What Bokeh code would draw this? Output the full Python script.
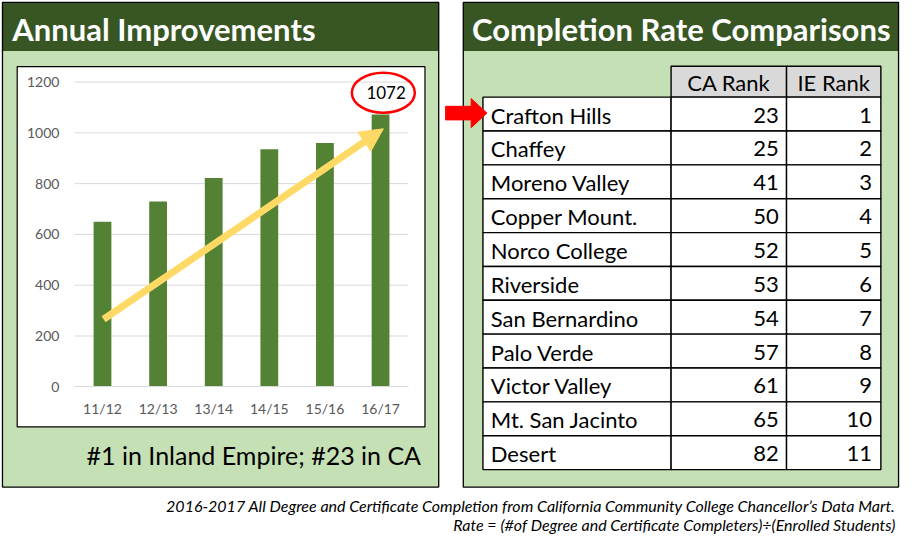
from bokeh.plotting import figure
from bokeh.models import Range1d, LinearAxis, FixedTicker, ColumnDataSource, Arrow, NormalHead
from bokeh.core.properties import value
from bokeh.embed import file_html
from bokeh.resources import INLINE

# ---------------- data ----------------
years = ["11/12", "12/13", "13/14", "14/15", "15/16", "16/17"]
completions = [650, 730, 822, 935, 960, 1072]
y_ticks = [0, 200, 400, 600, 800, 1000, 1200]

colleges = ["Crafton Hills", "Chaffey", "Moreno Valley", "Copper Mount.", "Norco College",
            "Riverside", "San Bernardino", "Palo Verde", "Victor Valley", "Mt. San Jacinto", "Desert"]
ca_rank = [23, 25, 41, 50, 52, 53, 54, 57, 61, 65, 82]
ie_rank = [1, 2, 3, 4, 5, 6, 7, 8, 9, 10, 11]
rank_headers = ["CA Rank", "IE Rank"]

left_title = "Annual Improvements"
right_title = "Completion Rate Comparisons"
left_note = "#1 in Inland Empire; #23 in CA"
footnotes = ["2016-2017 All Degree and Certificate Completion from California Community College Chancellor\u2019s Data Mart.",
             "Rate = (#of Degree and Certificate Completers)\u00f7(Enrolled Students)"]

# ---------------- styles ----------------
FONT = value("Lato")
DARK = "#375623"
LIGHT = "#C5E0B4"
BAR = "#548235"
YELLOW = "#FFD966"
GRAY_TXT = "#595959"
GRID = "#D9D9D9"

W, H = 901, 541          # canvas in px
RW, RH = 917, 557        # design coordinate space

p = figure(width=W, height=H, x_range=Range1d(0, RW), y_range=Range1d(RH, 0),
           output_backend="svg", toolbar_location=None, x_axis_type=None, y_axis_type=None,
           min_border=0, outline_line_color=None, background_fill_color="white",
           border_fill_color="white")

# bar-chart coordinate system (category index / value) inside the design space
BAR0_X, BAR_STEP = 103.8, 56.6
ZERO_Y, PX_PER_UNIT = 397.7, 313.7 / 1200
p.extra_x_ranges = {"cats": Range1d(-BAR0_X / BAR_STEP, (RW - BAR0_X) / BAR_STEP)}
p.extra_y_ranges = {"vals": Range1d((ZERO_Y - RH) / PX_PER_UNIT, ZERO_Y / PX_PER_UNIT)}

# ---------------- panels ----------------
for (l, r) in [(2, 446), (471, 914)]:
    p.quad(left=l, right=r, top=2, bottom=501, fill_color=LIGHT, line_color=None)
    p.quad(left=l, right=r, top=2, bottom=52, fill_color=DARK, line_color=None)
    p.quad(left=l, right=r, top=2, bottom=501, fill_color=None, line_color="black", line_width=1.3)

p.text(x=[12], y=[29], text=[left_title], text_font=FONT, text_font_style="bold",
       text_font_size="31px", text_color="white", text_baseline="middle", text_align="left")
p.text(x=[480], y=[29], text=[right_title], text_font=FONT, text_font_style="bold",
       text_font_size="31px", text_color="white", text_baseline="middle", text_align="left")

# chart box
p.quad(left=17, right=432, top=68, bottom=439, fill_color="white", line_color="black", line_width=1.2)

# ---------------- bar chart ----------------
n = len(years)
idx = list(range(n))
p.segment(x0=-0.5, x1=n - 0.5, y0="y", y1="y", source=ColumnDataSource(dict(y=y_ticks[1:])),
          x_range_name="cats", y_range_name="vals", line_color=GRID, line_width=1)
p.vbar(x=idx, top=completions, bottom=0, width=0.32, fill_color=BAR, line_color=None,
       x_range_name="cats", y_range_name="vals")

yax = LinearAxis(y_range_name="vals", fixed_location=62, ticker=FixedTicker(ticks=y_ticks),
                 axis_line_color=None, major_tick_line_color=None, minor_tick_line_color=None,
                 major_tick_in=0, major_tick_out=0, major_label_standoff=2,
                 major_label_text_color=GRAY_TXT, major_label_text_font="Lato",
                 major_label_text_font_size="14px")
p.add_layout(yax, "left")

xax = LinearAxis(x_range_name="cats", y_range_name="vals", fixed_location=0,
                 ticker=FixedTicker(ticks=idx), major_label_overrides={i: y for i, y in zip(idx, years)},
                 axis_line_color=GRID, bounds=(-0.5, n - 0.5), major_tick_line_color=None,
                 minor_tick_line_color=None, major_tick_in=0, major_tick_out=0,
                 major_label_standoff=13, major_label_text_color=GRAY_TXT,
                 major_label_text_font="Lato", major_label_text_font_size="14px")
p.add_layout(xax, "below")

p.add_layout(Arrow(x_start=0.02, y_start=266, x_end=5.05, y_end=1016,
                   x_range_name="cats", y_range_name="vals",
                   line_color=YELLOW, line_width=7,
                   end=NormalHead(size=23, fill_color=YELLOW, line_color=YELLOW, line_width=1)))

last = n - 1
p.ellipse(x=[last + 0.05], y=[completions[last] + 86], width=63, height=40,
          width_units="screen", height_units="screen", fill_color=None, line_color="red",
          line_width=2.5, x_range_name="cats", y_range_name="vals")
p.text(x=[last + 0.1], y=[completions[last] + 88], text=[str(completions[last])],
       x_range_name="cats", y_range_name="vals", text_font=FONT, text_font_size="17px",
       text_color="black", text_align="center", text_baseline="middle")

p.text(x=[428], y=[468], text=[left_note], text_font=FONT, text_font_size="25px",
       text_color="black", text_align="right", text_baseline="middle")

# ---------------- table ----------------
T_TOP, HDR_BOT, ROW_H = 67.7, 99.5, 34.86
COLS = [491, 682.5, 800, 896]
LW = 1.4
TFS = "22px"

p.quad(left=COLS[1:3], right=COLS[2:4], top=T_TOP, bottom=HDR_BOT, fill_color=GRID,
       line_color="black", line_width=LW)
hdr_x = [(COLS[1] + COLS[2]) / 2, (COLS[2] + COLS[3]) / 2]
p.text(x=hdr_x, y=[(T_TOP + HDR_BOT) / 2 + 1] * 2, text=rank_headers, text_font=FONT,
       text_font_size=TFS, text_color="black", text_align="center", text_baseline="middle")

nr = len(colleges)
row_top = [HDR_BOT + k * ROW_H for k in range(nr)]
row_mid = [t + ROW_H / 2 + 1 for t in row_top]
cells = dict(left=[], right=[], top=[], bottom=[])
for t in row_top:
    for j in range(3):
        cells["left"].append(COLS[j]); cells["right"].append(COLS[j + 1])
        cells["top"].append(t); cells["bottom"].append(t + ROW_H)
p.quad(source=ColumnDataSource(cells), left="left", right="right", top="top", bottom="bottom",
       fill_color="white", line_color="black", line_width=LW)

tsrc = ColumnDataSource(dict(y=row_mid, name=colleges, ca=[str(v) for v in ca_rank],
                             ie=[str(v) for v in ie_rank]))
p.text(x=COLS[0] + 8, y="y", text="name", source=tsrc, text_font=FONT, text_font_size=TFS,
       text_color="black", text_align="left", text_baseline="middle")
p.text(x=COLS[2] - 8, y="y", text="ca", source=tsrc, text_font=FONT, text_font_size=TFS,
       text_color="black", text_align="right", text_baseline="middle")
p.text(x=COLS[3] - 9, y="y", text="ie", source=tsrc, text_font=FONT, text_font_size=TFS,
       text_color="black", text_align="right", text_baseline="middle")

# red pointer arrow at the first row
cy = row_top[0] + ROW_H / 2 - 1
tip = COLS[0] + 4
ax = [tip - 42, tip - 16, tip - 16, tip, tip - 16, tip - 16, tip - 42]
ay = [cy - 7, cy - 7, cy - 15, cy, cy + 15, cy + 7, cy + 7]
p.patch(x=ax, y=ay, fill_color="red", line_color="red", line_width=1)

# ---------------- footnote ----------------
p.text(x=[911, 911], y=[520, 539], text=footnotes, text_font=FONT, text_font_style="italic",
       text_font_size="16px", text_color="black", text_align="right", text_baseline="middle")

open("out.html", "w").write(file_html(p, INLINE))
